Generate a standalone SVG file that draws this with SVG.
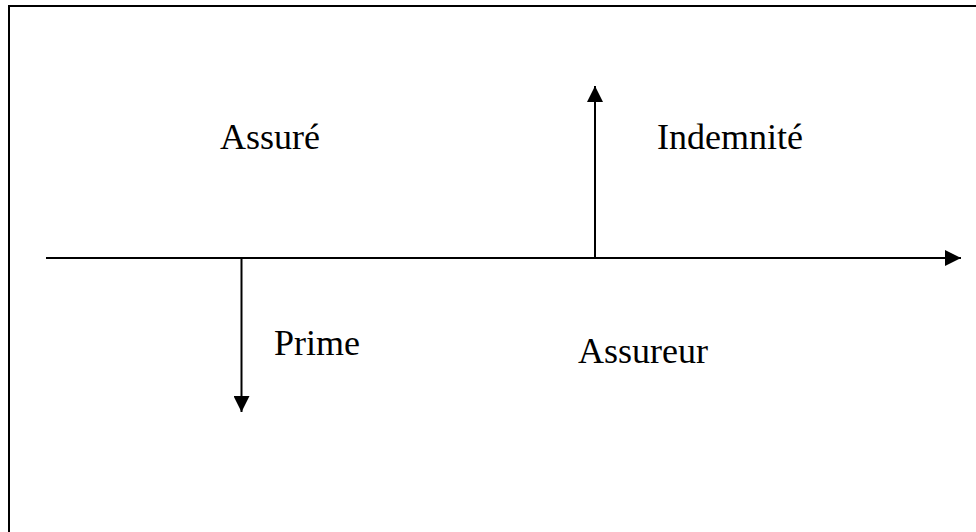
<svg xmlns="http://www.w3.org/2000/svg" width="976" height="532" viewBox="0 0 976 532">
  <style>
    .frame { fill: none; stroke: #000; stroke-width: 2; }
    .line { stroke: #000; stroke-width: 2; fill: none; }
    .label { font-family: "Liberation Serif", "Times New Roman", serif; font-size: 36px; fill: #000; }
  </style>
  <defs>
    <marker id="arrow" viewBox="0 0 16 16" refX="16" refY="8" markerWidth="16" markerHeight="16" markerUnits="userSpaceOnUse" orient="auto">
      <path d="M0,0 L16,8 L0,16 Z" fill="#000"/>
    </marker>
  </defs>

  <!-- outer frame -->
  <rect class="frame" x="9" y="6" width="990" height="560"/>

  <g id="connectors">
    <!-- time axis -->
    <line class="line" x1="46" y1="258" x2="961" y2="258" marker-end="url(#arrow)"/>
    <!-- premium paid out (down) -->
    <line class="line" x1="241.5" y1="258" x2="241.5" y2="412" marker-end="url(#arrow)"/>
    <!-- indemnity received (up) -->
    <line class="line" x1="595" y1="258" x2="595" y2="86" marker-end="url(#arrow)"/>
  </g>

  <g id="assure"><text class="label" x="220" y="149">Assuré</text></g>
  <g id="indemnite"><text class="label" x="657" y="149">Indemnité</text></g>
  <g id="prime"><text class="label" x="274" y="355">Prime</text></g>
  <g id="assureur"><text class="label" x="578" y="363">Assureur</text></g>
</svg>
